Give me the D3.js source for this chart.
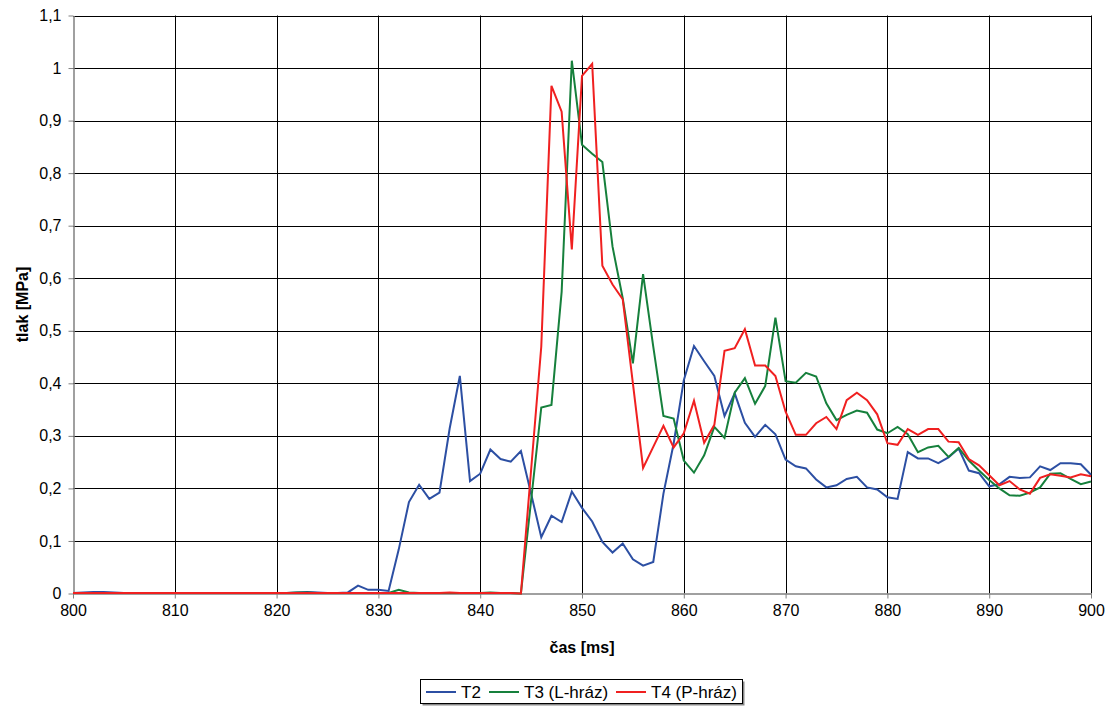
<!DOCTYPE html>
<html>
<head>
<meta charset="utf-8">
<script src="https://cdn.jsdelivr.net/npm/d3@7"></script>
<style>
  body { margin: 0; background: #fff; }
  text { font-family: "Liberation Sans", Arial, sans-serif; }
</style>
</head>
<body>
<svg id="chart" width="1113" height="706"></svg>
<script>
const times = [
  800, 801, 802, 803, 804, 805, 806, 807, 808, 809,
  810, 811, 812, 813, 814, 815, 816, 817, 818, 819,
  820, 821, 822, 823, 824, 825, 826, 827, 828, 829,
  830, 831, 832, 833, 834, 835, 836, 837, 838, 839,
  840, 841, 842, 843, 844, 845, 846, 847, 848, 849,
  850, 851, 852, 853, 854, 855, 856, 857, 858, 859,
  860, 861, 862, 863, 864, 865, 866, 867, 868, 869,
  870, 871, 872, 873, 874, 875, 876, 877, 878, 879,
  880, 881, 882, 883, 884, 885, 886, 887, 888, 889,
  890, 891, 892, 893, 894, 895, 896, 897, 898, 899,
  900
];

const t2 = [
  0.001, 0.002, 0.003, 0.003, 0.002, 0.001, 0.001, 0.001, 0.001, 0.001,
  0.001, 0.001, 0.001, 0.001, 0.001, 0.001, 0.001, 0.001, 0.001, 0.001,
  0.001, 0.001, 0.002, 0.003, 0.002, 0.001, 0.001, 0.002, 0.015, 0.007,
  0.007, 0.005, 0.084, 0.174, 0.207, 0.180, 0.192, 0.314, 0.414, 0.214,
  0.228, 0.274, 0.256, 0.251, 0.271, 0.190, 0.107, 0.148, 0.136, 0.194,
  0.163, 0.137, 0.098, 0.078, 0.095, 0.065, 0.053, 0.060, 0.190, 0.285,
  0.406, 0.471, 0.442, 0.414, 0.338, 0.381, 0.325, 0.298, 0.321, 0.303,
  0.255, 0.242, 0.238, 0.217, 0.202, 0.206, 0.218, 0.222, 0.202, 0.198,
  0.183, 0.180, 0.269, 0.257, 0.257, 0.248, 0.259, 0.276, 0.234, 0.229,
  0.204, 0.208, 0.222, 0.220, 0.221, 0.242, 0.235, 0.248, 0.248, 0.246,
  0.226
];

const t3 = [
  0.001, 0.001, 0.001, 0.001, 0.001, 0.001, 0.001, 0.001, 0.001, 0.001,
  0.001, 0.001, 0.001, 0.001, 0.001, 0.001, 0.001, 0.001, 0.001, 0.001,
  0.001, 0.001, 0.002, 0.002, 0.001, 0.001, 0.001, 0.001, 0.001, 0.001,
  0.001, 0.001, 0.007, 0.002, 0.001, 0.001, 0.001, 0.001, 0.001, 0.001,
  0.001, 0.002, 0.001, 0.001, 0.000, 0.177, 0.354, 0.359, 0.574, 1.014,
  0.854, 0.837, 0.821, 0.660, 0.562, 0.438, 0.608, 0.470, 0.338, 0.333,
  0.253, 0.230, 0.263, 0.317, 0.296, 0.382, 0.410, 0.361, 0.395, 0.525,
  0.404, 0.401, 0.420, 0.413, 0.362, 0.330, 0.340, 0.348, 0.344, 0.312,
  0.305, 0.317, 0.303, 0.269, 0.278, 0.281, 0.260, 0.277, 0.253, 0.234,
  0.216, 0.200, 0.187, 0.186, 0.192, 0.202, 0.228, 0.229, 0.218, 0.208,
  0.213
];

const t4 = [
  0.001, 0.001, 0.001, 0.001, 0.001, 0.001, 0.001, 0.001, 0.001, 0.001,
  0.001, 0.001, 0.001, 0.001, 0.001, 0.001, 0.001, 0.001, 0.001, 0.001,
  0.001, 0.001, 0.001, 0.001, 0.001, 0.001, 0.001, 0.001, 0.001, 0.001,
  0.001, 0.001, 0.001, 0.001, 0.001, 0.001, 0.001, 0.002, 0.001, 0.001,
  0.001, 0.001, 0.001, 0.001, 0.000, 0.235, 0.470, 0.966, 0.917, 0.655,
  0.985, 1.008, 0.624, 0.588, 0.560, 0.400, 0.239, 0.279, 0.319, 0.278,
  0.305, 0.367, 0.287, 0.321, 0.462, 0.467, 0.503, 0.434, 0.434, 0.414,
  0.346, 0.302, 0.302, 0.324, 0.336, 0.313, 0.368, 0.382, 0.368, 0.341,
  0.286, 0.283, 0.313, 0.302, 0.313, 0.313, 0.289, 0.288, 0.256, 0.244,
  0.225, 0.206, 0.214, 0.198, 0.190, 0.220, 0.227, 0.224, 0.221, 0.227,
  0.223
];

const seriesNames = ["T2", "T3 (L-hráz)", "T4 (P-hráz)"];
const seriesColors = ["#2c4fa3", "#16803c", "#f02020"];
const xTicks = [800, 810, 820, 830, 840, 850, 860, 870, 880, 890, 900];
const yTicks = [0, 0.1, 0.2, 0.3, 0.4, 0.5, 0.6, 0.7, 0.8, 0.9, 1, 1.1];

const svg = d3.select("#chart");
const plotLeft = 73, plotRight = 1091, plotTop = 15.5, plotBottom = 593.5;

const x = d3.scaleLinear().domain([800, 900]).range([plotLeft, plotRight]);
const y = d3.scaleLinear().domain([0, 1.1]).range([plotBottom, plotTop]);
const fmt = d => String(+d.toFixed(1)).replace(".", ",");

svg.append("rect").attr("width", 1113).attr("height", 706).attr("fill", "#fff");

// grid
svg.append("g").selectAll("line").data(yTicks.slice(1)).enter().append("line")
  .attr("x1", plotLeft).attr("x2", plotRight)
  .attr("y1", d => Math.round(y(d)) + 0.5).attr("y2", d => Math.round(y(d)) + 0.5)
  .attr("stroke", "#000").attr("stroke-width", 1);
svg.append("g").selectAll("line").data(xTicks.slice(1)).enter().append("line")
  .attr("y1", plotTop).attr("y2", plotBottom)
  .attr("x1", d => Math.round(x(d)) + 0.5).attr("x2", d => Math.round(x(d)) + 0.5)
  .attr("stroke", "#000").attr("stroke-width", 1);

// axes
const xAxis = svg.append("g")
  .attr("transform", `translate(0,${plotBottom})`)
  .call(d3.axisBottom(x).tickValues(xTicks).tickSize(5).tickSizeOuter(0).tickFormat(d => d));
const yAxis = svg.append("g")
  .attr("transform", `translate(${plotLeft + 0.5},0)`)
  .call(d3.axisLeft(y).tickValues(yTicks).tickSize(5).tickSizeOuter(0).tickFormat(fmt));

[xAxis, yAxis].forEach(a => {
  a.select(".domain").attr("stroke", "#808080").attr("stroke-width", 1.5);
  a.selectAll(".tick line").attr("stroke", "#808080");
  a.selectAll(".tick text").attr("fill", "#000").style("font-size", "16px")
    .style("font-family", "'Liberation Sans', Arial, sans-serif");
});
xAxis.selectAll(".tick text").attr("dy", "0.9em");
yAxis.selectAll(".tick text").attr("x", -12);

// lines
const line = d3.line().x((d, i) => x(times[i])).y(d => y(d));
[t2, t3, t4].forEach((vals, i) => {
  svg.append("path").datum(vals)
    .attr("d", line)
    .attr("fill", "none")
    .attr("stroke", seriesColors[i])
    .attr("stroke-width", 2)
    .attr("stroke-linejoin", "miter");
});

// axis titles
svg.append("text")
  .attr("x", (plotLeft + plotRight) / 2).attr("y", 653)
  .attr("text-anchor", "middle")
  .style("font-size", "16px").style("font-weight", "bold")
  .text("čas [ms]");
svg.append("text")
  .attr("transform", `translate(28,${(plotTop + plotBottom) / 2}) rotate(-90)`)
  .attr("text-anchor", "middle")
  .style("font-size", "16px").style("font-weight", "bold")
  .text("tlak [MPa]");

// legend
const lg = svg.append("g");
lg.append("rect").attr("x", 422.5).attr("y", 681.5).attr("width", 322).attr("height", 24)
  .attr("fill", "#888");
lg.append("rect").attr("x", 420.5).attr("y", 679.5).attr("width", 322).attr("height", 24)
  .attr("fill", "#fff").attr("stroke", "#000");
const legendX = [426, 489, 616];
seriesNames.forEach((name, i) => {
  lg.append("line")
    .attr("x1", legendX[i]).attr("x2", legendX[i] + 30)
    .attr("y1", 692).attr("y2", 692)
    .attr("stroke", seriesColors[i]).attr("stroke-width", 2);
  lg.append("text")
    .attr("x", legendX[i] + 35).attr("y", 698)
    .style("font-size", "17px")
    .text(name);
});
</script>
</body>
</html>
